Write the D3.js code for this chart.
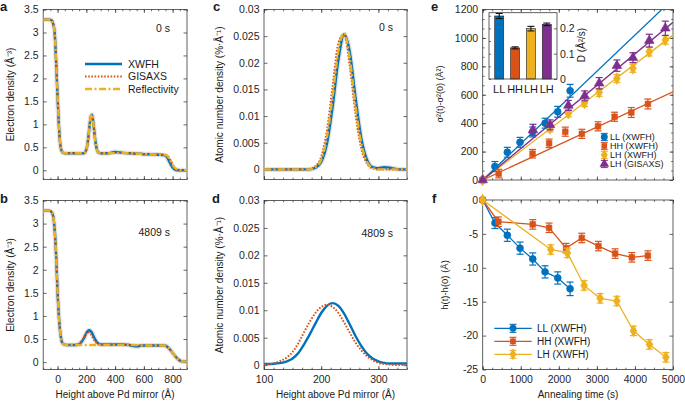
<!DOCTYPE html>
<html>
<meta charset="utf-8">
<style>
  body { margin: 0; background: #fff; }
  svg { font-family: "Liberation Sans", Arial, sans-serif; }
  .tick text { font-size: 10.5px; fill: #262626; }
</style>
<body>
<div id="viz"></div>
<script src="https://d3js.org/d3.v7.min.js"></script>
<script>
// ---- panels a, b : electron density profiles ----
var abX = [-100,-60,-40,-30,-20,-10,0,10,20,30,40,60,100,130,150,170,180,190,200,210,220,230,240,250,260,270,280,290,300,350,400,450,500,520,540,560,580,600,650,700,740,760,780,800,820,840,860,900];
var aXWFH = [3.28,3.28,3.26,3.18,2.98,2.35,1.60,0.92,0.53,0.41,0.38,0.37,0.37,0.37,0.37,0.37,0.37,0.39,0.45,0.61,0.89,1.15,1.21,1.00,0.71,0.50,0.40,0.38,0.37,0.37,0.40,0.38,0.37,0.37,0.36,0.36,0.36,0.35,0.35,0.34,0.33,0.29,0.17,0.06,0.01,0.00,0.00,0.00];
var aGISAXS = [3.28,3.28,3.26,3.17,2.96,2.33,1.62,0.94,0.54,0.41,0.38,0.37,0.37,0.37,0.37,0.37,0.37,0.39,0.46,0.63,0.92,1.16,1.19,0.97,0.68,0.48,0.40,0.38,0.37,0.37,0.38,0.38,0.37,0.37,0.36,0.36,0.36,0.35,0.35,0.34,0.34,0.32,0.25,0.13,0.04,0.01,0.00,0.00];
var aRefl = [3.28,3.28,3.26,3.17,2.97,2.34,1.61,0.93,0.53,0.41,0.38,0.37,0.37,0.37,0.37,0.37,0.37,0.39,0.45,0.62,0.90,1.16,1.22,0.99,0.70,0.49,0.40,0.38,0.37,0.37,0.38,0.38,0.37,0.37,0.36,0.36,0.36,0.35,0.35,0.34,0.34,0.32,0.24,0.12,0.04,0.01,0.00,0.00];
var bXWFH = [3.28,3.28,3.24,3.15,2.86,2.30,1.50,0.95,0.60,0.44,0.39,0.37,0.37,0.37,0.39,0.45,0.50,0.56,0.63,0.67,0.69,0.67,0.63,0.56,0.50,0.45,0.41,0.39,0.38,0.38,0.38,0.38,0.37,0.35,0.34,0.34,0.36,0.36,0.36,0.36,0.36,0.34,0.28,0.20,0.12,0.06,0.02,0.01];
var bGISAXS = [3.28,3.28,3.24,3.14,2.85,2.28,1.52,0.96,0.60,0.44,0.39,0.37,0.37,0.38,0.40,0.47,0.52,0.58,0.62,0.65,0.64,0.61,0.56,0.50,0.45,0.42,0.39,0.38,0.37,0.37,0.37,0.37,0.37,0.37,0.37,0.37,0.36,0.36,0.36,0.36,0.36,0.34,0.28,0.20,0.12,0.06,0.02,0.01];
var bRefl = [3.28,3.28,3.24,3.14,2.86,2.29,1.51,0.95,0.60,0.44,0.39,0.37,0.37,0.37,0.37,0.37,0.37,0.37,0.37,0.37,0.37,0.37,0.37,0.37,0.37,0.37,0.37,0.37,0.37,0.37,0.37,0.37,0.37,0.37,0.37,0.37,0.36,0.36,0.36,0.36,0.36,0.34,0.28,0.20,0.12,0.06,0.02,0.01];

// ---- panels c, d : atomic number density ----
var cdX = [100,110,120,130,140,150,160,170,180,190,200,210,220,230,240,250,260,270,280,290,300,310,320,330,340,350];
var cXWFH = [0,0,0,0,0,0,0,0,0,0.0003,0.0014,0.0048,0.0118,0.0205,0.0253,0.0220,0.0135,0.0059,0.0018,0.0004,0.0002,0.0004,0.0003,0.0001,0,0];
var cGISAXS = [0,0,0,0,0,0,0,0,0.0001,0.0006,0.0024,0.0073,0.0157,0.0237,0.0254,0.0193,0.0103,0.0039,0.0011,0.0002,0,0,0,0,0,0];
var cRefl = [0,0,0,0,0,0,0,0,0,0.0004,0.0018,0.0060,0.0137,0.0222,0.0256,0.0208,0.0119,0.0049,0.0014,0.0003,0,0,0,0,0,0];
var dXWFH = [0.0002,0.0002,0.0003,0.0004,0.0007,0.0012,0.0022,0.0038,0.0056,0.0076,0.0095,0.0108,0.0113,0.0108,0.0094,0.0074,0.0053,0.0035,0.0021,0.0012,0.0007,0.0004,0.0003,0.0003,0.0003,0.0003];
var dGISAXS = [0.0001,0.0002,0.0004,0.0008,0.0014,0.0024,0.0040,0.0060,0.0079,0.0095,0.0106,0.0110,0.0106,0.0095,0.0078,0.0059,0.0041,0.0027,0.0016,0.0009,0.0004,0.0002,0.0001,0,0,0];

// ---- panel e : sigma^2 growth ----
var eLLt = [0,320,647,980,1313,1640,1970,2297];
var eLLv = [0,95,195,265,338,400,480,628];
var eLLerr = [0,35,35,35,35,35,38,45];
var eHHt = [0,420,1310,1745,2170,2605,3030,3465,3905,4340];
var eHHv = [0,45,185,258,340,325,378,445,475,535];
var eHHerr = [0,30,30,30,32,32,32,32,35,35];
var eLHt = [0,1770,2250,2675,3060,3526,3947,4377,4798];
var eLHv = [0,364,470,542,617,714,786,903,986];
var eLHerr = [0,25,25,25,28,28,28,30,30];
var eLGt = [0,1320,1770,2250,2680,3061,3526,3947,4377,4798];
var eLGv = [0,352,388,525,592,681,805,861,981,1068];
var eLGerr = [0,40,35,35,35,40,40,35,45,50];
var fitSlopes = [0.255,0.124,0.204,0.222];
var eNames = ["LL (XWFH)","HH (XWFH)","LH (XWFH)","LH (GISAXS)"];

// ---- inset : diffusion coefficients ----
var insetCats = ["LL","HH","LH","LH"];
var insetD = [0.249,0.123,0.199,0.216];
var insetErr = [0.010,0.004,0.009,0.005];

// ---- panel f : height shift ----
var fLLt = [0,323,647,981,1315,1638,1972,2296];
var fLLv = [0,-3.4,-5.2,-7.1,-8.7,-10.6,-11.5,-13.1];
var fLLerr = [0,0.8,0.9,0.9,0.9,0.9,0.9,1.0];
var fHHt = [0,411,1315,1744,2191,2603,3041,3479,3919,4340];
var fHHv = [0,-3.2,-3.6,-4.1,-7.1,-5.6,-6.8,-7.9,-8.45,-8.2];
var fHHerr = [0,0.7,0.7,0.7,0.7,0.7,0.7,0.7,0.7,0.7];
var fLHt = [0,1788,2226,2664,3085,3524,3961,4382,4813];
var fLHv = [0,-7.3,-7.8,-12.6,-14.5,-14.9,-19.3,-21.3,-23.2];
var fLHerr = [0,0.7,0.7,0.7,0.7,0.7,0.7,0.7,0.7];
var fNames = ["LL (XWFH)","HH (XWFH)","LH (XWFH)"];

// ticks
var abXTicks = [0,200,400,600,800];
var abYTicks = [0,0.5,1,1.5,2,2.5,3,3.5];
var cdXTicks = [100,200,300];
var cdYTicks = [0,0.005,0.01,0.015,0.02,0.025,0.03];
var efXTicks = [0,1000,2000,3000,4000,5000];
var eYTicks = [0,200,400,600,800,1000,1200];
var fYTicks = [-25,-20,-15,-10,-5,0];
var insetTicks = [0,0.1,0.2];

var blue = "#0072BD", orange = "#D95319", yellow = "#EDB120", purple = "#7E2F8E";
var stXWFH = {c: blue, w: 2.4};
var stGIS = {c: orange, w: 2, dash: "1.6,1.6"};
var stRef = {c: yellow, w: 2.4, dash: "7,2.5,2,2.5"};

var svg = d3.select("#viz").append("svg").attr("width", 685).attr("height", 401);
var clipN = 0;
var lab = function (d) { return String(d); };

function axes(x, y, o) {
  var g = svg.append("g").attr("color", "#262626");
  var xl = x.range()[0], xr = x.range()[1], yb = y.range()[0], yt = y.range()[1];
  function put(axis, tr) {
    var s = g.append("g").attr("transform", tr).call(axis);
    s.select(".domain").remove();
    s.attr("font-family", null).attr("font-size", null);
  }
  put(d3.axisBottom(x).tickValues(o.xMajor).tickSizeInner(-3.5).tickSizeOuter(0).tickPadding(6.5).tickFormat(o.xLabels ? lab : ""), "translate(0," + yb + ")");
  put(d3.axisTop(x).tickValues(o.xMajor).tickSizeInner(-3.5).tickSizeOuter(0).tickFormat(""), "translate(0," + yt + ")");
  put(d3.axisLeft(y).tickValues(o.yMajor).tickSizeInner(-3.5).tickSizeOuter(0).tickPadding(4.5).tickFormat(lab), "translate(" + xl + ",0)");
  put(d3.axisRight(y).tickValues(o.yMajor).tickSizeInner(-3.5).tickSizeOuter(0).tickFormat(""), "translate(" + xr + ",0)");
  if (o.xMinor) {
    put(d3.axisBottom(x).tickValues(o.xMinor).tickSizeInner(-1.8).tickSizeOuter(0).tickFormat(""), "translate(0," + yb + ")");
    put(d3.axisTop(x).tickValues(o.xMinor).tickSizeInner(-1.8).tickSizeOuter(0).tickFormat(""), "translate(0," + yt + ")");
  }
  if (o.yMinor) {
    put(d3.axisLeft(y).tickValues(o.yMinor).tickSizeInner(-1.8).tickSizeOuter(0).tickFormat(""), "translate(" + xl + ",0)");
    put(d3.axisRight(y).tickValues(o.yMinor).tickSizeInner(-1.8).tickSizeOuter(0).tickFormat(""), "translate(" + xr + ",0)");
  }
  g.selectAll(".tick line").attr("stroke-width", 0.7);
  g.append("rect").attr("x", xl).attr("y", yt).attr("width", xr - xl).attr("height", yb - yt)
    .attr("fill", "none").attr("stroke", "#3a3a3a").attr("stroke-width", 0.8);
  var id = "clip" + (clipN++);
  svg.append("clipPath").attr("id", id).append("rect")
    .attr("x", xl).attr("y", yt).attr("width", xr - xl).attr("height", yb - yt);
  return svg.append("g").attr("clip-path", "url(#" + id + ")");
}

function curve(g, x, y, xs, ys, st) {
  var line = d3.line().x(function (d, i) { return x(xs[i]); }).y(function (d) { return y(d); }).curve(d3.curveMonotoneX);
  g.append("path").attr("d", line(ys)).attr("fill", "none")
    .attr("stroke", st.c).attr("stroke-width", st.w).attr("stroke-opacity", st.o || 1)
    .attr("stroke-dasharray", st.dash || null).attr("stroke-linejoin", "round");
}

function text(x, y, s, o) {
  o = o || {};
  var t = svg.append("text").attr("x", x).attr("y", y).text(s)
    .attr("font-size", o.size || 10.5).attr("fill", "#1a1a1a")
    .attr("text-anchor", o.anchor || "start").attr("font-weight", o.bold ? "bold" : null);
  if (o.rot) t.attr("transform", "rotate(-90," + x + "," + y + ")");
  return t;
}

function profileLegend(x0, x1, ys) {
  var items = [["XWFH", stXWFH], ["GISAXS", stGIS], ["Reflectivity", stRef]];
  items.forEach(function (it, i) {
    svg.append("line").attr("x1", x0).attr("x2", x1).attr("y1", ys[i]).attr("y2", ys[i])
      .attr("stroke", it[1].c).attr("stroke-width", it[1].w).attr("stroke-dasharray", it[1].dash || null);
    text(x1 + 6, ys[i] + 3.8, it[0]);
  });
}

// ---------- a ----------
var xa = d3.scaleLinear().domain([-100, 900]).range([43.2, 187]);
var ya = d3.scaleLinear().domain([-0.2, 3.5]).range([179.5, 9.5]);
var ga = axes(xa, ya, {xMajor: abXTicks, xMinor: d3.range(-100, 901, 50), yMajor: abYTicks, xLabels: false});
curve(ga, xa, ya, abX, aXWFH, {c: "#c8c8c8", w: 5, o: 0.5});
curve(ga, xa, ya, abX, aXWFH, stXWFH);
curve(ga, xa, ya, abX, aGISAXS, stGIS);
curve(ga, xa, ya, abX, aRefl, stRef);
profileLegend(85, 122, [64, 76.5, 89]);
text(170, 32, "0 s", {anchor: "end"});

// ---------- b ----------
var yb = d3.scaleLinear().domain([-0.16, 3.5]).range([369.5, 200.5]);
var gb = axes(xa, yb, {xMajor: abXTicks, xMinor: d3.range(-100, 901, 50), yMajor: abYTicks, xLabels: true});
curve(gb, xa, yb, abX, bXWFH, {c: "#c8c8c8", w: 5, o: 0.5});
curve(gb, xa, yb, abX, bXWFH, stXWFH);
curve(gb, xa, yb, abX, bGISAXS, stGIS);
curve(gb, xa, yb, abX, bRefl, stRef);
text(170, 236, "4809 s", {anchor: "end"});

// ---------- c ----------
var xc = d3.scaleLinear().domain([100, 350]).range([264, 407]);
var yc = d3.scaleLinear().domain([-0.0019, 0.03]).range([179.5, 9.5]);
var gc = axes(xc, yc, {xMajor: cdXTicks, xMinor: d3.range(100, 351, 100 / 6), yMajor: cdYTicks, xLabels: false});
curve(gc, xc, yc, cdX, cXWFH, {c: "#c8c8c8", w: 5, o: 0.5});
curve(gc, xc, yc, cdX, cXWFH, stXWFH);
curve(gc, xc, yc, cdX, cGISAXS, stGIS);
curve(gc, xc, yc, cdX, cRefl, stRef);
text(393, 31, "0 s", {anchor: "end"});

// ---------- d ----------
var yd = d3.scaleLinear().domain([-0.0008, 0.03]).range([369.5, 200.5]);
var gd = axes(xc, yd, {xMajor: cdXTicks, xMinor: d3.range(100, 351, 100 / 6), yMajor: cdYTicks, xLabels: true});
curve(gd, xc, yd, cdX, dXWFH, stXWFH);
curve(gd, xc, yd, cdX, dGISAXS, stGIS);
text(393, 237, "4809 s", {anchor: "end"});

// ---------- e ----------
var symbols = [d3.symbolCircle, d3.symbolSquare, d3.symbolDiamond, d3.symbolTriangle];
var symSizes = [38, 32, 40, 40];
var sCols = [blue, orange, yellow, purple];

function errbar(g, cx, y0, y1, col, cap, w) {
  g.append("line").attr("x1", cx).attr("x2", cx).attr("y1", y0).attr("y2", y1).attr("stroke", col).attr("stroke-width", w || 1.2);
  [y0, y1].forEach(function (yy) {
    g.append("line").attr("x1", cx - cap / 2).attr("x2", cx + cap / 2).attr("y1", yy).attr("y2", yy)
      .attr("stroke", col).attr("stroke-width", w || 1.2);
  });
}
function points(g, x, y, ts, vs, es, k) {
  ts.forEach(function (t, i) {
    if (es[i] > 0) errbar(g, x(t), y(vs[i] - es[i]), y(vs[i] + es[i]), sCols[k], 7);
  });
  ts.forEach(function (t, i) {
    g.append("path").attr("d", d3.symbol().type(symbols[k]).size(symSizes[k])())
      .attr("transform", "translate(" + x(t) + "," + y(vs[i]) + ")").attr("fill", sCols[k]).attr("stroke", sCols[k]).attr("stroke-width", 0.6);
  });
}

var xe = d3.scaleLinear().domain([0, 5000]).range([482.7, 673]);
var ye = d3.scaleLinear().domain([0, 1200]).range([180, 9.5]);
var ge = axes(xe, ye, {xMajor: efXTicks, xMinor: d3.range(0, 5001, 250), yMajor: eYTicks, yMinor: d3.range(0, 1201, 200 / 3), xLabels: false});
fitSlopes.forEach(function (s, k) {
  ge.append("path").attr("d", d3.line().x(function (d) { return xe(d); }).y(function (d) { return ye(d * s); })([0, 5000]))
    .attr("stroke", sCols[k]).attr("stroke-width", 1.3).attr("fill", "none");
});
var gePts = svg.append("g");
points(gePts, xe, ye, eLLt, eLLv, eLLerr, 0);
points(gePts, xe, ye, eHHt, eHHv, eHHerr, 1);
points(gePts, xe, ye, eLHt, eLHv, eLHerr, 2);
points(gePts, xe, ye, eLGt, eLGv, eLGerr, 3);

// e legend
eNames.forEach(function (n, k) {
  var cy = 137 + k * 9;
  errbar(svg, 604.3, cy - 3.6, cy + 3.6, sCols[k], 7, 1);
  svg.append("path").attr("d", d3.symbol().type(symbols[k]).size(symSizes[k])())
    .attr("transform", "translate(604.3," + cy + ")").attr("fill", sCols[k]);
  text(610, cy + 3.2, n, {size: 9});
});

// inset
var ix = d3.scaleBand().domain(d3.range(insetCats.length)).range([489, 557]).paddingInner(0.43).paddingOuter(0.36);
var iy = d3.scaleLinear().domain([0, 0.262]).range([79, 12.7]);
svg.append("rect").attr("x", 489).attr("y", 12.7).attr("width", 68).attr("height", 66.3).attr("fill", "#fff");
var gi = svg.append("g").attr("color", "#262626");
gi.append("g").attr("transform", "translate(557,0)")
  .call(d3.axisRight(iy).tickValues(insetTicks).tickSizeInner(-3).tickSizeOuter(0).tickPadding(3).tickFormat(lab))
  .call(function (s) { s.select(".domain").remove(); s.attr("font-family", null).attr("font-size", null); });
gi.append("g").attr("transform", "translate(489,0)")
  .call(d3.axisLeft(iy).tickValues([0, 0.05, 0.1, 0.15, 0.2, 0.25]).tickSizeInner(-2).tickSizeOuter(0).tickFormat(""))
  .call(function (s) { s.select(".domain").remove(); });
gi.selectAll(".tick line").attr("stroke-width", 0.7);
insetD.forEach(function (v, i) {
  gi.append("rect").attr("x", ix(i)).attr("y", iy(v)).attr("width", ix.bandwidth()).attr("height", iy(0) - iy(v))
    .attr("fill", sCols[i]).attr("stroke", "#222").attr("stroke-width", 0.6);
  errbar(gi, ix(i) + ix.bandwidth() / 2, iy(v - insetErr[i]), iy(v + insetErr[i]), "#111", 7, 1.1);
  text(ix(i) + ix.bandwidth() / 2, 93, insetCats[i], {size: 11, anchor: "middle"});
});
gi.append("rect").attr("x", 489).attr("y", 12.7).attr("width", 68).attr("height", 66.3)
  .attr("fill", "none").attr("stroke", "#3a3a3a").attr("stroke-width", 0.8);
text(585, 45, "D (Å²/s)", {size: 10, anchor: "middle", rot: true});

// ---------- f ----------
var yf = d3.scaleLinear().domain([-25, 0]).range([369.5, 200]);
var gf = axes(xe, yf, {xMajor: efXTicks, xMinor: d3.range(0, 5001, 250), yMajor: fYTicks, xLabels: true});
var fSets = [[fLLt, fLLv, fLLerr], [fHHt, fHHv, fHHerr], [fLHt, fLHv, fLHerr]];
var gfPts = svg.append("g");
fSets.forEach(function (s, k) {
  gfPts.append("path").attr("d", d3.line().x(function (d) { return xe(d); }).y(function (d, i) { return yf(s[1][i]); })(s[0]))
    .attr("fill", "none").attr("stroke", sCols[k]).attr("stroke-width", 1.3);
  points(gfPts, xe, yf, s[0], s[1], s[2], k);
});
// f legend
fNames.forEach(function (n, k) {
  var cy = 328.3 + k * 13;
  svg.append("line").attr("x1", 494.3).attr("x2", 531.7).attr("y1", cy).attr("y2", cy).attr("stroke", sCols[k]).attr("stroke-width", 1.3);
  errbar(svg, 513, cy - 4, cy + 4, sCols[k], 7, 1.1);
  svg.append("path").attr("d", d3.symbol().type(symbols[k]).size(symSizes[k])())
    .attr("transform", "translate(513," + cy + ")").attr("fill", sCols[k]);
  text(537, cy + 3.6, n, {size: 10});
});

// ---------- titles ----------
text(13.5, 94.5, "Electron density (Å⁻³)", {size: 10, anchor: "middle", rot: true});
text(13.5, 285, "Electron density (Å⁻³)", {size: 10, anchor: "middle", rot: true});
text(222.5, 94.5, "Atomic number density (%·Å⁻¹)", {size: 10, anchor: "middle", rot: true});
text(222.5, 285, "Atomic number density (%·Å⁻¹)", {size: 10, anchor: "middle", rot: true});
text(443, 94, "σ²(t)-σ²(0) (Å²)", {size: 9, anchor: "middle", rot: true});
text(448, 285, "h(t)-h(0) (Å)", {size: 9.5, anchor: "middle", rot: true});
text(115, 397.5, "Height above Pd mirror (Å)", {size: 10, anchor: "middle"});
text(335.5, 397.5, "Height above Pd mirror (Å)", {size: 10, anchor: "middle"});
text(578, 397.5, "Annealing time (s)", {size: 10, anchor: "middle"});

// panel letters
[["a", 0, 11], ["b", 0, 203], ["c", 213, 11], ["d", 212, 203], ["e", 431, 11], ["f", 432, 203]].forEach(function (p) {
  text(p[1], p[2], p[0], {size: 13, bold: true});
});
</script>
</body>
</html>
